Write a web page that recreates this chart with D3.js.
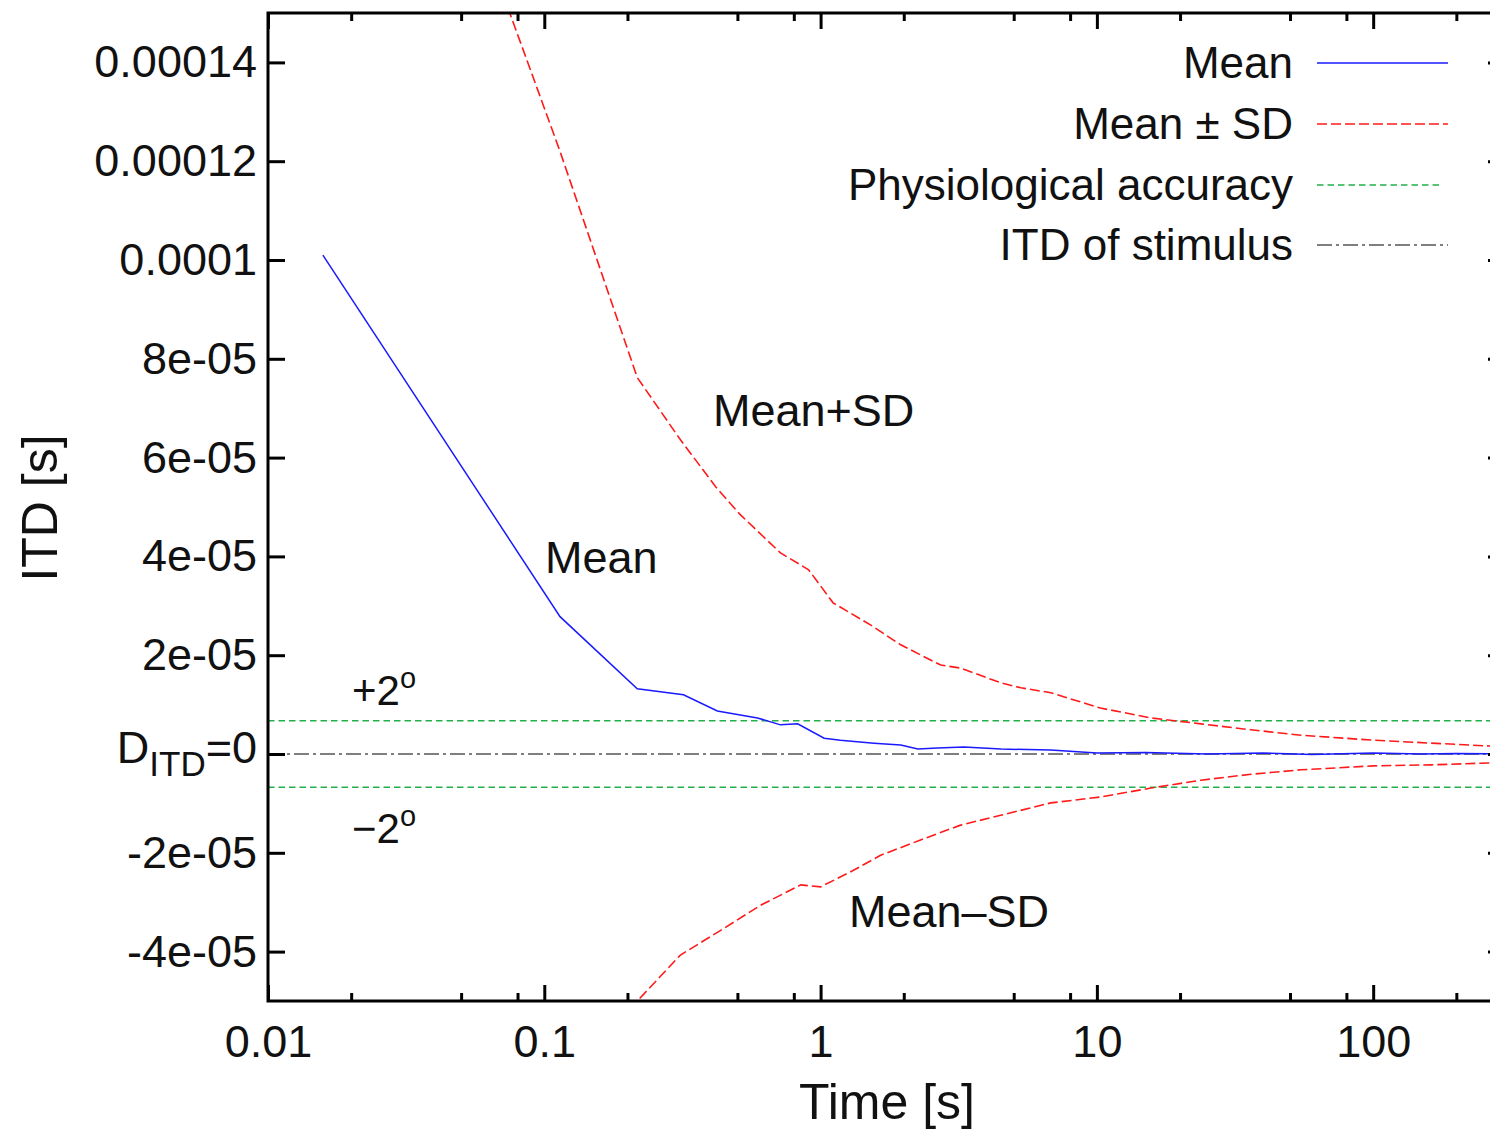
<!DOCTYPE html>
<html>
<head>
<meta charset="utf-8">
<script src="https://cdn.jsdelivr.net/npm/d3@7"></script>
<style>
  body { margin: 0; background: #fff; }
  svg text { font-family: "Liberation Sans", Arial, Helvetica, sans-serif; fill: #111; }
</style>
</head>
<body>
<svg id="chart" width="1490" height="1131"></svg>
<script>
// ---- data (time in s, ITD in s) ----
var meanT = [0.0158, 0.114, 0.217, 0.319, 0.423, 0.591, 0.716, 0.826, 1.03, 1.18, 1.56, 1.95, 2.25, 2.65, 3.3, 4.5, 6.8, 10, 15, 25, 40, 60, 100, 150, 200, 300];
var meanV = [1.01e-4, 2.78e-5, 1.32e-5, 1.20e-5, 8.7e-6, 7.3e-6, 5.9e-6, 6.1e-6, 3.2e-6, 2.8e-6, 2.2e-6, 1.8e-6, 1.0e-6, 1.2e-6, 1.4e-6, 1.0e-6, 0.8e-6, 0.2e-6, 0.3e-6, 0.0, 0.2e-6, -0.1e-6, 0.2e-6, 0.0, 0.1e-6, 0.0];

var upperT = [0.0158, 0.075, 0.114, 0.217, 0.311, 0.417, 0.513, 0.716, 0.905, 1.11, 1.52, 1.95, 2.72, 3.21, 4.49, 5.31, 6.81, 10.3, 15.7, 23.8, 36.1, 54.8, 100, 162, 268, 300];
var upperV = [2.52e-4, 1.5e-4, 1.22e-4, 7.62e-5, 6.36e-5, 5.41e-5, 4.84e-5, 4.07e-5, 3.73e-5, 3.06e-5, 2.61e-5, 2.21e-5, 1.80e-5, 1.74e-5, 1.44e-5, 1.34e-5, 1.24e-5, 9.3e-6, 7.3e-6, 6.1e-6, 4.9e-6, 3.8e-6, 2.8e-6, 2.2e-6, 1.6e-6, 1.5e-6];

var lowerT = [0.0158, 0.114, 0.217, 0.311, 0.435, 0.607, 0.848, 1.0, 1.28, 1.65, 2.30, 3.21, 4.49, 6.81, 10.3, 15.7, 23.8, 36.1, 54.8, 100, 162, 268, 300];
var lowerV = [-5.0e-5, -6.6e-5, -5.0e-5, -4.07e-5, -3.57e-5, -3.06e-5, -2.65e-5, -2.69e-5, -2.39e-5, -2.05e-5, -1.74e-5, -1.44e-5, -1.24e-5, -9.9e-6, -8.7e-6, -6.9e-6, -5.3e-6, -4.1e-6, -3.2e-6, -2.4e-6, -2.2e-6, -1.8e-6, -1.7e-6];

var accuracy = 6.75e-6;   // +/- 2 degrees
var stimulus = 0;

var xMajor = [0.01, 0.1, 1, 10, 100];
var xMinor = [0.02, 0.05, 0.08, 0.2, 0.5, 0.8, 2, 5, 8, 20, 50, 80, 200];
var yTicks = [-4e-5, -2e-5, 0, 2e-5, 4e-5, 6e-5, 8e-5, 1e-4, 1.2e-4, 1.4e-4];
var yTickLabels = ["-4e-05", "-2e-05", "0", "2e-05", "4e-05", "6e-05", "8e-05", "0.0001", "0.00012", "0.00014"];

var legendNames = ["Mean", "Mean \u00b1 SD", "Physiological accuracy", "ITD of stimulus"];
var legendColors = ["#1a1aff", "#ff1a1a", "#22b04a", "#555555"];
var legendDash = [null, "10,4", "6.5,4", "15,4,3,4"];

// ---- setup ----
var svg = d3.select("#chart");
var padL = 268, padR = 1505, padT = 13, padB = 1001;

var x = d3.scaleLog().domain([0.01, 300]).range([padL, padR]);
var y = d3.scaleLinear().domain([-5e-5, 1.5e-4]).range([padB, padT]);

svg.append("defs").append("clipPath").attr("id", "plot")
  .append("rect")
  .attr("x", padL).attr("y", padT)
  .attr("width", padR - padL).attr("height", padB - padT);

var line = d3.line()
  .x(function(d) { return x(d[0]); })
  .y(function(d) { return y(d[1]); });

var g = svg.append("g").attr("clip-path", "url(#plot)");

// horizontal reference lines
[accuracy, -accuracy].forEach(function(v) {
  g.append("path")
    .datum([[0.01, v], [300, v]])
    .attr("d", line)
    .attr("fill", "none")
    .attr("stroke", legendColors[2])
    .attr("stroke-width", 1.5)
    .attr("stroke-dasharray", legendDash[2]);
});
g.append("path")
  .datum([[0.01, stimulus], [300, stimulus]])
  .attr("d", line)
  .attr("fill", "none")
  .attr("stroke", legendColors[3])
  .attr("stroke-width", 1.5)
  .attr("stroke-dasharray", legendDash[3]);

function pairs(ts, vs) { return ts.map(function(t, i) { return [t, vs[i]]; }); }

g.append("path")
  .datum(pairs(upperT, upperV))
  .attr("d", line).attr("fill", "none")
  .attr("stroke", legendColors[1]).attr("stroke-width", 1.6)
  .attr("stroke-dasharray", legendDash[1]);
g.append("path")
  .datum(pairs(lowerT, lowerV))
  .attr("d", line).attr("fill", "none")
  .attr("stroke", legendColors[1]).attr("stroke-width", 1.6)
  .attr("stroke-dasharray", legendDash[1]);
g.append("path")
  .datum(pairs(meanT, meanV))
  .attr("d", line).attr("fill", "none")
  .attr("stroke", legendColors[0]).attr("stroke-width", 1.5);

// ---- axes ----
var fontTick = 45;

var xAxis = svg.append("g").attr("transform", "translate(0," + padB + ")")
  .call(d3.axisBottom(x).tickValues(xMajor).tickSize(-16).tickPadding(24)
    .tickFormat(function(d) { return String(d); }));
var xMinorAxis = svg.append("g").attr("transform", "translate(0," + padB + ")")
  .call(d3.axisBottom(x).tickValues(xMinor).tickSize(-8).tickFormat(""));
var xTop = svg.append("g").attr("transform", "translate(0," + padT + ")")
  .call(d3.axisTop(x).tickValues(xMajor).tickSize(-16).tickFormat(""));
var xTopMinor = svg.append("g").attr("transform", "translate(0," + padT + ")")
  .call(d3.axisTop(x).tickValues(xMinor).tickSize(-8).tickFormat(""));

var yAxis = svg.append("g").attr("transform", "translate(" + padL + ",0)")
  .call(d3.axisLeft(y).tickValues(yTicks).tickSize(-17).tickPadding(11)
    .tickFormat(function(d, i) { return yTickLabels[i]; }));
var yRight = svg.append("g").attr("transform", "translate(" + padR + ",0)")
  .call(d3.axisRight(y).tickValues(yTicks).tickSize(-17).tickFormat(""));

[xAxis, xMinorAxis, xTop, xTopMinor, yAxis, yRight].forEach(function(a) {
  a.select(".domain").remove();
  a.selectAll("line").attr("stroke", "#000").attr("stroke-width", 3);
  a.selectAll("text").attr("font-size", fontTick)
    .attr("font-family", "Liberation Sans, Arial, sans-serif").attr("fill", "#111");
});

// replace the 0 label with D_ITD=0
yAxis.selectAll(".tick text").filter(function(d) { return d === 0; })
  .text(null)
  .attr("dy", "0.18em")
  .call(function(t) {
    t.append("tspan").text("D");
    t.append("tspan").attr("font-size", 35).attr("dy", 13).text("ITD");
    t.append("tspan").attr("dy", -13).text("=0");
  });

// frame
svg.append("rect")
  .attr("x", padL).attr("y", padT)
  .attr("width", padR - padL).attr("height", padB - padT)
  .attr("fill", "none").attr("stroke", "#000").attr("stroke-width", 3);

// axis titles
svg.append("text")
  .attr("x", 887).attr("y", 1119)
  .attr("text-anchor", "middle").attr("font-size", 50)
  .text("Time [s]");
svg.append("text")
  .attr("transform", "translate(57,508) rotate(-90)")
  .attr("text-anchor", "middle").attr("font-size", 50)
  .text("ITD [s]");

// curve labels
svg.append("text").attr("x", 545).attr("y", 573).attr("font-size", 45).text("Mean");
svg.append("text").attr("x", 713).attr("y", 426).attr("font-size", 45).text("Mean+SD");
svg.append("text").attr("x", 849).attr("y", 927).attr("font-size", 45).text("Mean\u2013SD");

var plus = svg.append("text").attr("x", 352).attr("y", 705).attr("font-size", 42);
plus.append("tspan").text("+2");
plus.append("tspan").attr("font-size", 29).attr("dy", -17).text("o");
var minus = svg.append("text").attr("x", 352).attr("y", 843).attr("font-size", 42);
minus.append("tspan").text("\u22122");
minus.append("tspan").attr("font-size", 29).attr("dy", -17).text("o");

// legend
var legendY = [63, 124, 185, 245];
var legend = svg.append("g");
legendNames.forEach(function(name, i) {
  legend.append("text")
    .attr("x", 1293).attr("y", legendY[i]).attr("dy", "0.34em")
    .attr("text-anchor", "end").attr("font-size", 44)
    .text(name);
  legend.append("line")
    .attr("x1", 1317).attr("x2", i === 2 ? 1442 : 1448)
    .attr("y1", legendY[i]).attr("y2", legendY[i])
    .attr("stroke", legendColors[i]).attr("stroke-width", 1.5)
    .attr("stroke-dasharray", legendDash[i]);
});
</script>
</body>
</html>
